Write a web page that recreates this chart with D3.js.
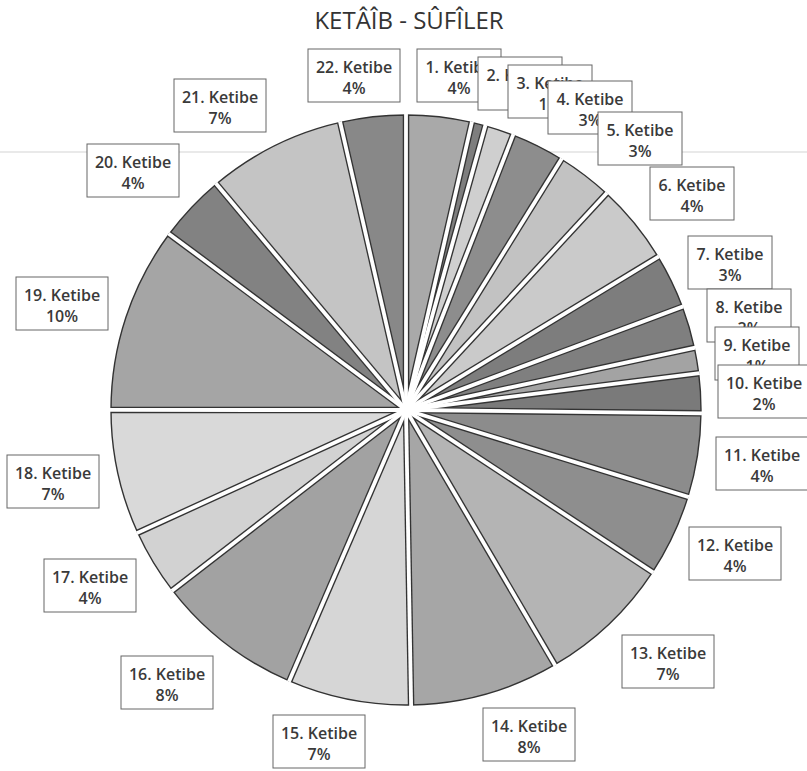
<!DOCTYPE html>
<html>
<head>
    <meta charset="utf-8">
    <title>KETÂÎB - SÛFÎLER</title>
    <script src="https://d3js.org/d3.v7.min.js"></script>
    <style>
        body { margin: 0; background: #fff; }
        .title { font-family: "Open Sans", sans-serif; font-size: 24px; fill: #333; }
        .lbl { font-family: "Open Sans", sans-serif; font-size: 16px; font-weight: 600; fill: #3a3a3a; }
        .box { fill: #fff; stroke: #666; stroke-width: 1; }
        .slice { stroke: #333; stroke-width: 1.4; }
    </style>
</head>
<body>
    <div id="chart"></div>
    <script>
        // values (share of the circle, %)
        const names = ["1. Ketibe", "2. Ketibe", "3. Ketibe", "4. Ketibe", "5. Ketibe", "6. Ketibe",
            "7. Ketibe", "8. Ketibe", "9. Ketibe", "10. Ketibe", "11. Ketibe", "12. Ketibe",
            "13. Ketibe", "14. Ketibe", "15. Ketibe", "16. Ketibe", "17. Ketibe", "18. Ketibe",
            "19. Ketibe", "20. Ketibe", "21. Ketibe", "22. Ketibe"];
        const values = [3.58, 0.75, 1.58, 2.92, 3.06, 4.42, 3.0, 2.31, 1.39, 2.17, 4.58, 4.5,
            7.33, 8.14, 6.75, 8.06, 3.64, 6.83, 10.17, 3.72, 7.53, 3.58];
        // percent labels as printed on the chart
        const pctLabels = ["4%", "1%", "1%", "3%", "3%", "4%", "3%", "2%", "1%", "2%", "4%", "4%",
            "7%", "8%", "7%", "8%", "4%", "7%", "10%", "4%", "7%", "4%"];
        const grays = ["#a9a9a9", "#7e7e7e", "#cfcfcf", "#8d8d8d", "#c2c2c2", "#cacaca", "#7d7d7d",
            "#7f7f7f", "#a3a3a3", "#7a7a7a", "#8c8c8c", "#8e8e8e", "#b4b4b4", "#a6a6a6", "#d6d6d6",
            "#a2a2a2", "#d2d2d2", "#d9d9d9", "#a5a5a5", "#828282", "#c4c4c4", "#888888"];
        // top-left corner of each label box
        const boxX = [417, 478, 508, 548, 598, 650, 688, 707, 715, 718, 716, 689, 622, 483, 273, 121, 44, 7, 16, 87, 174, 308];
        const boxY = [49, 57, 65, 81, 112, 167, 236, 289, 327, 365, 437, 527, 635, 708, 715, 656, 559, 455, 277, 144, 79, 49];

        const width = 807, height = 771;
        const cx = 406, cy = 410, radius = 295;

        const svg = d3.select("#chart").append("svg")
            .attr("width", width)
            .attr("height", height);

        // faint scan line across the page
        svg.append("line")
            .attr("x1", 0).attr("x2", width)
            .attr("y1", 152).attr("y2", 152)
            .attr("stroke", "#e2e2e2").attr("stroke-width", 1.5);

        svg.append("text")
            .attr("class", "title")
            .attr("x", 409).attr("y", 29)
            .attr("text-anchor", "middle")
            .text("KETÂÎB - SÛFÎLER");

        const pie = d3.pie().sort(null).value(d => d)(values);
        const arc = d3.arc()
            .innerRadius(0)
            .outerRadius(radius);

        const g = svg.append("g")
            .attr("transform", `translate(${cx},${cy})`);

        g.selectAll("path")
            .data(pie)
            .enter()
            .append("path")
            .attr("class", "slice")
            .attr("d", arc)
            .attr("fill", (d, i) => grays[i]);

        // separators: dark edge then white band on top
        const sep = (a, r) => [Math.sin(a) * r, -Math.cos(a) * r];

        g.selectAll("line.edge")
            .data(pie)
            .enter()
            .append("line")
            .attr("class", "edge")
            .attr("x1", 0).attr("y1", 0)
            .attr("x2", d => sep(d.startAngle, radius)[0])
            .attr("y2", d => sep(d.startAngle, radius)[1])
            .attr("stroke", "#333")
            .attr("stroke-width", 6.5);

        g.selectAll("line.gap")
            .data(pie)
            .enter()
            .append("line")
            .attr("class", "gap")
            .attr("x1", 0).attr("y1", 0)
            .attr("x2", d => sep(d.startAngle, radius + 1)[0])
            .attr("y2", d => sep(d.startAngle, radius + 1)[1])
            .attr("stroke", "#fff")
            .attr("stroke-width", 3.8);

        // label boxes, later ones drawn on top
        const boxW = i => (i < 9 ? 84 : 92);

        const labels = svg.append("g")
            .selectAll("g")
            .data(names)
            .enter()
            .append("g")
            .attr("transform", (d, i) => `translate(${boxX[i]},${boxY[i]})`);

        labels.append("rect")
            .attr("class", "box")
            .attr("width", (d, i) => boxW(i))
            .attr("height", 53);

        labels.append("text")
            .attr("class", "lbl")
            .attr("x", (d, i) => boxW(i) / 2)
            .attr("y", 24)
            .attr("text-anchor", "middle")
            .text(d => d);

        labels.append("text")
            .attr("class", "lbl")
            .attr("x", (d, i) => boxW(i) / 2)
            .attr("y", 45)
            .attr("text-anchor", "middle")
            .text((d, i) => pctLabels[i]);
    </script>
</body>
</html>
